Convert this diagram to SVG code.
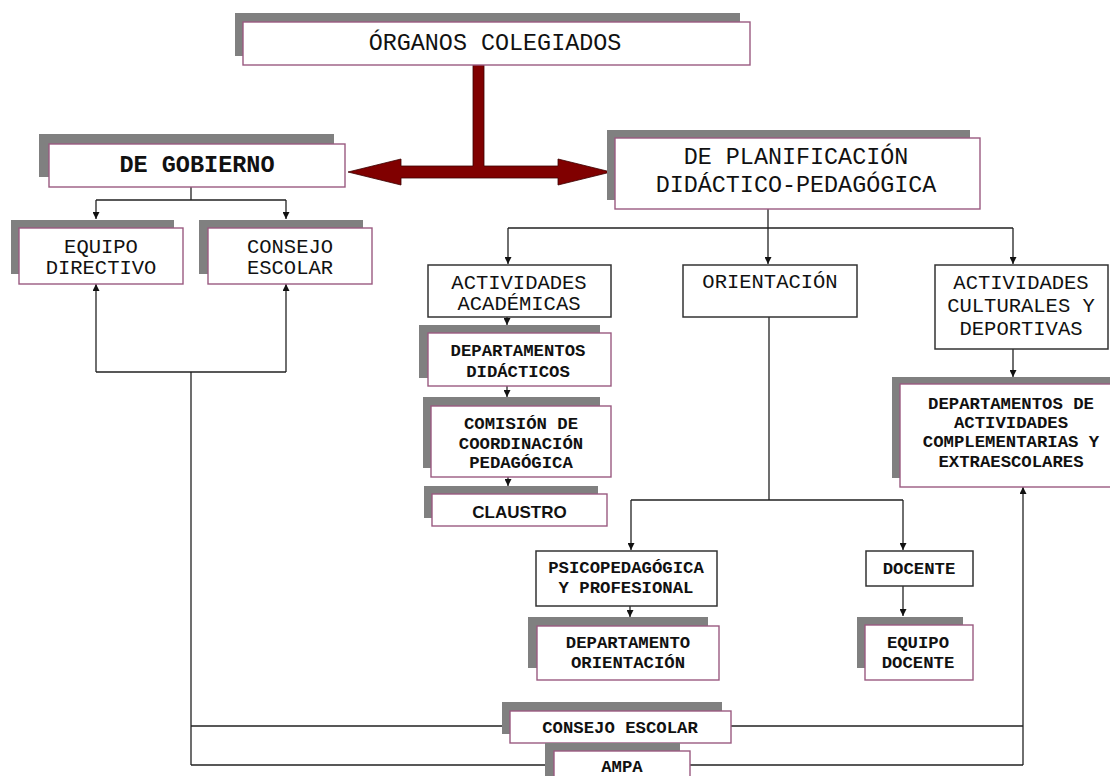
<svg xmlns="http://www.w3.org/2000/svg" width="1110" height="776" viewBox="0 0 1110 776">
<defs>
<marker id="ah" viewBox="0 0 10 10" refX="10" refY="5" markerWidth="7" markerHeight="7" markerUnits="userSpaceOnUse" orient="auto">
<path d="M0,0 L10,5 L0,10 z" fill="#111"/>
</marker>
</defs>
<style>
.sh{fill:#808080}
.bx{fill:#fff;stroke:#9a5a80;stroke-width:1.4}
.pb{fill:#fff;stroke:#333;stroke-width:1.5}
.cn{fill:none;stroke:#222;stroke-width:1.3}
.ar{fill:none;stroke:#222;stroke-width:1.3;marker-end:url(#ah)}
text{font-family:"Liberation Mono","Courier New",monospace;fill:#111;text-anchor:middle}
.hl{font-size:23.4px}
.hb{font-size:23.5px;font-weight:bold}
.md{font-size:20.5px}
.sm{font-size:17.3px;font-weight:bold}
.cl{font-family:"Liberation Sans",Arial,sans-serif;font-size:17px;font-weight:bold}
</style>
<rect width="1110" height="776" fill="#fff"/>

<g id="connectors">
<path class="cn" d="M191,187 V200 M96,200 H286 M96,372 H286 M191,372 V765 M191,726 H502 M731,726 H1023 M191,765 H545 M690,765 H1023 M768,209 V228 M508,228 H1013 M769,317 V500 M631,500 H903"/>
<path class="ar" d="M96,200 V219"/>
<path class="ar" d="M286,200 V219"/>
<path class="ar" d="M96,372 V284"/>
<path class="ar" d="M286,372 V284"/>
<path class="ar" d="M1023,765 V487"/>
<path class="ar" d="M508,228 V264"/>
<path class="ar" d="M768,228 V264"/>
<path class="ar" d="M1013,228 V264"/>
<path class="ar" d="M507,317 V325"/>
<path class="ar" d="M507,386 V397"/>
<path class="ar" d="M508,477 V486"/>
<path class="ar" d="M631,500 V550"/>
<path class="ar" d="M903,500 V550"/>
<path class="ar" d="M630,606 V617"/>
<path class="ar" d="M903,586 V616"/>
<path class="ar" d="M1013,349 V377"/>
<polygon id="red-arrow" points="473,64 484,64 484,166 558,166 558,159 611,172 558,185 558,178 401,178 401,185 348,172 401,159 401,166 473,166" fill="#800000" stroke="#3a0000" stroke-width="0.8"/>
</g>

<g id="organos">
<rect class="sh" x="235" y="13" width="505" height="43"/>
<rect class="bx" x="243" y="22" width="507" height="43"/>
<text class="hl" x="495" y="50">ÓRGANOS COLEGIADOS</text>
</g>

<g id="gobierno">
<rect class="sh" x="39" y="134" width="295" height="43"/>
<rect class="bx" x="49" y="144" width="296" height="43"/>
<text class="hb" x="197" y="172">DE GOBIERNO</text>
</g>

<g id="equipo-directivo">
<rect class="sh" x="11" y="220" width="163" height="54"/>
<rect class="bx" x="19" y="228" width="164" height="56"/>
<text class="md" x="101" y="253">EQUIPO</text>
<text class="md" x="101" y="274">DIRECTIVO</text>
</g>

<g id="consejo-escolar-top">
<rect class="sh" x="199" y="220" width="164" height="54"/>
<rect class="bx" x="208" y="228" width="164" height="56"/>
<text class="md" x="290" y="253">CONSEJO</text>
<text class="md" x="290" y="274">ESCOLAR</text>
</g>

<g id="planificacion">
<rect class="sh" x="607" y="130" width="363" height="70"/>
<rect class="bx" x="615" y="138" width="365" height="71"/>
<text class="hl" x="796" y="164">DE PLANIFICACIÓN</text>
<text class="hl" x="796" y="192">DIDÁCTICO-PEDAGÓGICA</text>
</g>

<g id="act-academicas">
<rect class="pb" x="428" y="265" width="183" height="52"/>
<text class="md" x="519" y="289">ACTIVIDADES</text>
<text class="md" x="519" y="310">ACADÉMICAS</text>
</g>

<g id="deptos-didacticos">
<rect class="sh" x="419" y="325" width="181" height="53"/>
<rect class="bx" x="428" y="333" width="183" height="53"/>
<text class="sm" x="518" y="356">DEPARTAMENTOS</text>
<text class="sm" x="518" y="377">DIDÁCTICOS</text>
</g>

<g id="comision">
<rect class="sh" x="423" y="397" width="177" height="71"/>
<rect class="bx" x="431" y="406" width="180" height="71"/>
<text class="sm" x="521" y="429">COMISIÓN DE</text>
<text class="sm" x="521" y="449">COORDINACIÓN</text>
<text class="sm" x="521" y="468">PEDAGÓGICA</text>
</g>

<g id="claustro">
<rect class="sh" x="424" y="486" width="174" height="32"/>
<rect class="bx" x="432" y="494" width="175" height="32"/>
<text class="cl" x="519.5" y="518">CLAUSTRO</text>
</g>

<g id="orientacion">
<rect class="pb" x="683" y="265" width="174" height="52"/>
<text class="md" x="770" y="288">ORIENTACIÓN</text>
</g>

<g id="act-culturales">
<rect class="pb" x="935" y="265" width="173" height="84"/>
<text class="md" x="1021" y="289">ACTIVIDADES</text>
<text class="md" x="1021" y="312">CULTURALES Y</text>
<text class="md" x="1021" y="335">DEPORTIVAS</text>
</g>

<g id="deptos-actividades">
<rect class="sh" x="892" y="377" width="230" height="101"/>
<rect class="bx" x="900" y="384" width="230" height="103"/>
<text class="sm" x="1011" y="409">DEPARTAMENTOS DE</text>
<text class="sm" x="1011" y="428">ACTIVIDADES</text>
<text class="sm" x="1011" y="447">COMPLEMENTARIAS Y</text>
<text class="sm" x="1011" y="467">EXTRAESCOLARES</text>
</g>

<g id="psicopedagogica">
<rect class="pb" x="536" y="551" width="181" height="55"/>
<text class="sm" x="626" y="573">PSICOPEDAGÓGICA</text>
<text class="sm" x="626" y="593">Y PROFESIONAL</text>
</g>

<g id="depto-orientacion">
<rect class="sh" x="528" y="617" width="180" height="51"/>
<rect class="bx" x="537" y="626" width="182" height="54"/>
<text class="sm" x="628" y="648">DEPARTAMENTO</text>
<text class="sm" x="628" y="668">ORIENTACIÓN</text>
</g>

<g id="docente">
<rect class="pb" x="866" y="551" width="107" height="35"/>
<text class="sm" x="919" y="574">DOCENTE</text>
</g>

<g id="equipo-docente">
<rect class="sh" x="857" y="617" width="106" height="51"/>
<rect class="bx" x="865" y="625" width="108" height="55"/>
<text class="sm" x="918" y="648">EQUIPO</text>
<text class="sm" x="918" y="668">DOCENTE</text>
</g>

<g id="consejo-escolar-bottom">
<rect class="sh" x="502" y="702" width="220" height="32"/>
<rect class="bx" x="510" y="711" width="221" height="32"/>
<text class="sm" x="620" y="733">CONSEJO ESCOLAR</text>
</g>

<g id="ampa">
<rect class="sh" x="545" y="743" width="135" height="40"/>
<rect class="bx" x="554" y="751" width="136" height="40"/>
<text class="sm" x="622" y="772">AMPA</text>
</g>
</svg>
